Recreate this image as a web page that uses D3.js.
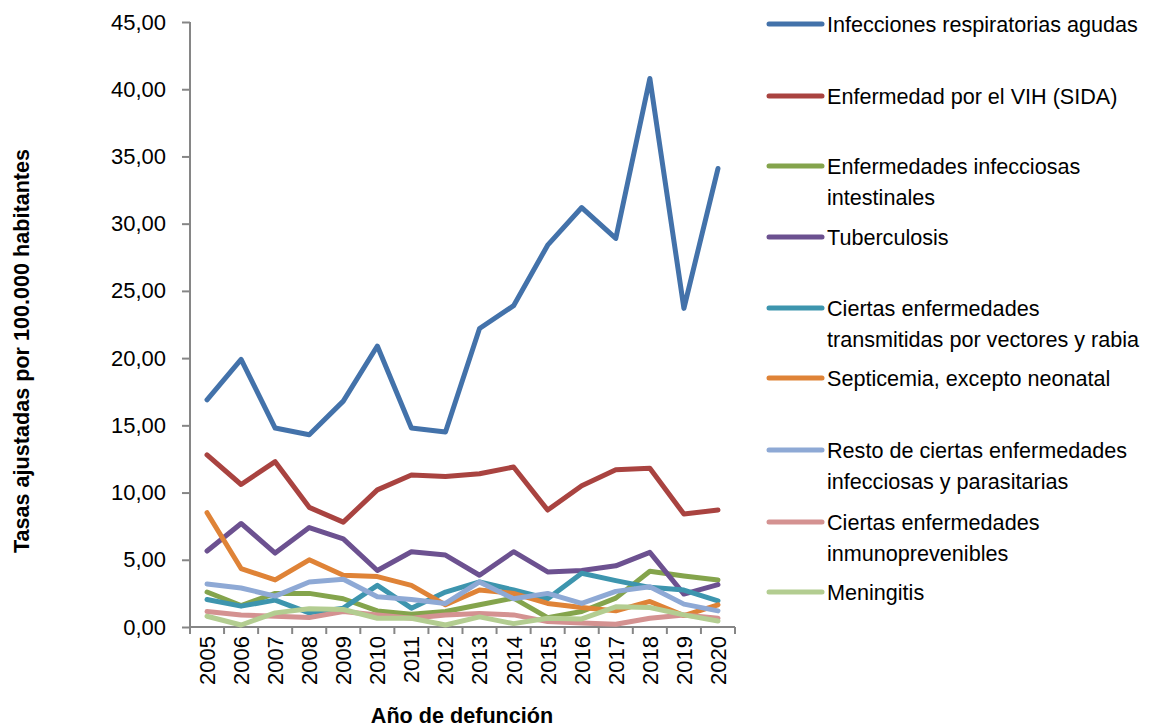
<!DOCTYPE html>
<html>
<head>
<meta charset="utf-8">
<script src="https://cdn.jsdelivr.net/npm/d3@7"></script>
<style>
    body { margin: 0; background: #fff; }
    svg text { font-family: "Liberation Sans", Arial, sans-serif; fill: #000; }
    .axis path, .axis line { stroke: #868686; stroke-width: 2; }
</style>
</head>
<body>
<svg id="chart" width="1149" height="728"></svg>
<script>
var years = ["2005", "2006", "2007", "2008", "2009", "2010", "2011", "2012",
    "2013", "2014", "2015", "2016", "2017", "2018", "2019", "2020"];

var yTicks = [0, 5, 10, 15, 20, 25, 30, 35, 40, 45];

var respiratorias = [16.9, 19.9, 14.8, 14.3, 16.8, 20.9, 14.8, 14.5, 22.2, 23.9, 28.4, 31.2, 28.9, 40.8, 23.7, 34.1];
var vih = [12.8, 10.6, 12.3, 8.9, 7.8, 10.2, 11.3, 11.2, 11.4, 11.9, 8.7, 10.5, 11.7, 11.8, 8.4, 8.7];
var intestinales = [2.6, 1.6, 2.5, 2.5, 2.1, 1.2, 0.95, 1.15, 1.65, 2.15, 0.7, 1.15, 2.15, 4.15, 3.8, 3.5];
var tuberculosis = [5.65, 7.7, 5.5, 7.4, 6.55, 4.2, 5.6, 5.35, 3.85, 5.6, 4.1, 4.2, 4.55, 5.55, 2.45, 3.15];
var vectores = [2.05, 1.55, 2.0, 1.05, 1.4, 3.1, 1.4, 2.6, 3.35, 2.75, 2.1, 4.0, 3.45, 2.95, 2.75, 1.95];
var septicemia = [8.5, 4.35, 3.5, 5.0, 3.85, 3.75, 3.1, 1.65, 2.75, 2.5, 1.75, 1.45, 1.2, 1.9, 0.85, 1.65];
var resto = [3.2, 2.9, 2.3, 3.35, 3.55, 2.25, 2.05, 1.75, 3.35, 2.1, 2.5, 1.75, 2.65, 3.0, 1.7, 1.2];
var inmunoprevenibles = [1.15, 0.9, 0.8, 0.7, 1.15, 0.9, 0.65, 0.9, 1.0, 0.9, 0.4, 0.3, 0.2, 0.65, 0.9, 0.65];
var meningitis = [0.8, 0.15, 1.05, 1.35, 1.3, 0.65, 0.65, 0.15, 0.75, 0.25, 0.65, 0.6, 1.5, 1.45, 0.9, 0.45];

var seriesNames = [
    ["Infecciones respiratorias agudas"],
    ["Enfermedad por el VIH (SIDA)"],
    ["Enfermedades infecciosas", "intestinales"],
    ["Tuberculosis"],
    ["Ciertas enfermedades", "transmitidas por vectores y rabia"],
    ["Septicemia, excepto neonatal"],
    ["Resto de ciertas enfermedades", "infecciosas y parasitarias"],
    ["Ciertas enfermedades", "inmunoprevenibles"],
    ["Meningitis"]
];
var seriesValues = [respiratorias, vih, intestinales, tuberculosis, vectores,
    septicemia, resto, inmunoprevenibles, meningitis];
var seriesColors = ["#4372aa", "#a94340", "#84a44c", "#6c5190", "#3d95ae",
    "#df8337", "#8ea9d5", "#d49291", "#b3cd91"];
var legendY = [24, 96, 166, 237, 308, 378, 450, 522, 592];

var svg = d3.select("#chart");

var x = d3.scaleBand().domain(years).range([190, 735]).padding(0);
var y = d3.scaleLinear().domain([0, 45]).range([627, 22]);

var locale = d3.formatLocale({ decimal: ",", thousands: ".", grouping: [3], currency: ["", ""] });
var fmt = locale.format(".2f");

// y axis
var yAxis = svg.append("g")
    .classed("axis", true)
    .attr("transform", "translate(190,0)")
    .call(d3.axisLeft(y).tickValues(yTicks).tickSize(8).tickPadding(16).tickFormat(fmt));
yAxis.select(".domain").attr("d", "M0," + y(45) + "V" + y(0));
yAxis.selectAll("text").style("font-size", "22px");

// x axis
var xAxis = svg.append("g")
    .classed("axis", true)
    .attr("transform", "translate(0,627)")
    .call(d3.axisBottom(x).tickSize(0));
xAxis.select(".domain").attr("d", "M190,0H735");
xAxis.selectAll("text")
    .attr("transform", "rotate(-90)")
    .attr("x", -9)
    .attr("y", 0)
    .attr("dy", "0.36em")
    .attr("text-anchor", "end")
    .style("font-size", "22px");

// category boundary ticks
var bounds = years.map(d => x(d)).concat([x.range()[1]]);
xAxis.selectAll(".bound")
    .data(bounds)
    .enter()
    .append("line")
    .classed("bound", true)
    .attr("x1", d => d).attr("x2", d => d)
    .attr("y1", 0).attr("y2", 7);

// lines
var line = d3.line()
    .x((d, i) => x(years[i]) + x.bandwidth() / 2)
    .y(d => y(d))
    .curve(d3.curveLinear);

svg.selectAll(".series")
    .data(seriesValues)
    .enter()
    .append("path")
    .classed("series", true)
    .attr("d", line)
    .attr("fill", "none")
    .attr("stroke", (d, i) => seriesColors[i])
    .attr("stroke-width", 5)
    .attr("stroke-linejoin", "round")
    .attr("stroke-linecap", "round");

// legend
var legend = svg.selectAll(".legend")
    .data(seriesNames)
    .enter()
    .append("g")
    .classed("legend", true)
    .attr("transform", (d, i) => "translate(0," + legendY[i] + ")");

legend.append("line")
    .attr("x1", 769).attr("x2", 822)
    .attr("y1", 0).attr("y2", 0)
    .attr("stroke", (d, i) => seriesColors[i])
    .attr("stroke-width", 5)
    .attr("stroke-linecap", "round");

legend.each(function (d) {
    var g = d3.select(this);
    d.forEach((txt, j) => {
        g.append("text")
            .attr("x", 827)
            .attr("y", j * 31)
            .attr("dy", "0.36em")
            .style("font-size", "21.6px")
            .text(txt);
    });
});

// axis titles
svg.append("text")
    .attr("transform", "translate(21,351) rotate(-90)")
    .attr("text-anchor", "middle")
    .attr("dy", "0.36em")
    .style("font-size", "21.6px")
    .style("font-weight", "bold")
    .text("Tasas ajustadas por 100.000 habitantes");

svg.append("text")
    .attr("x", 462)
    .attr("y", 715)
    .attr("text-anchor", "middle")
    .attr("dy", "0.36em")
    .style("font-size", "21.6px")
    .style("font-weight", "bold")
    .text("Año de defunción");
</script>
</body>
</html>
